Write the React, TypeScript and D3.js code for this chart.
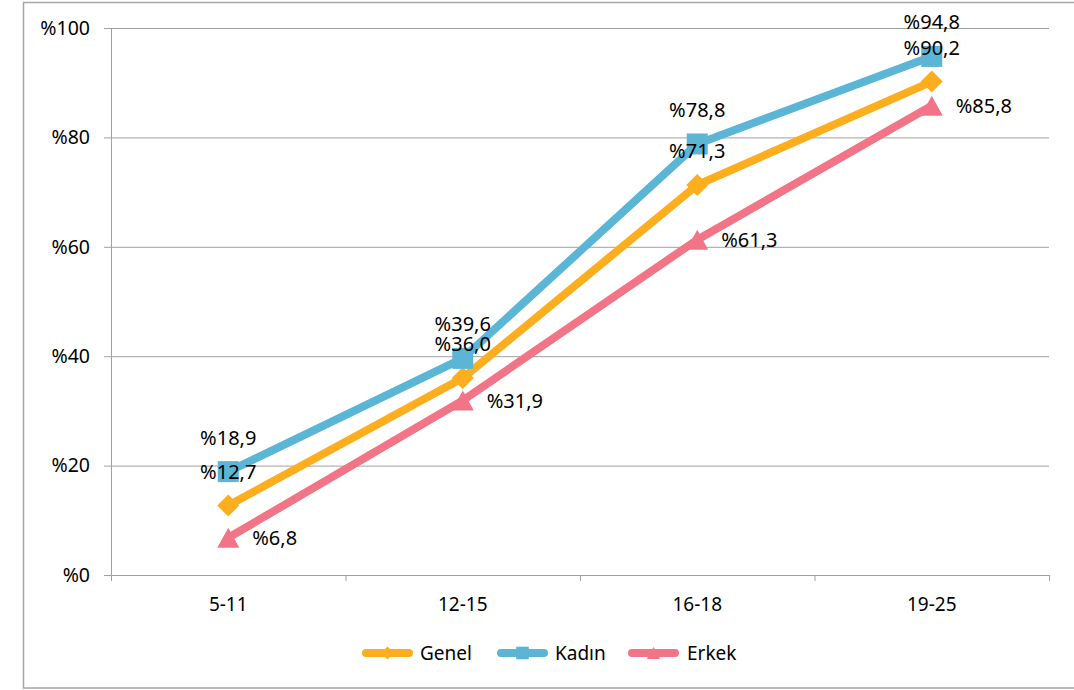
import React from "react";
import * as d3 from "d3";

const categories = ["5-11", "12-15", "16-18", "19-25"];
const genel = [12.7, 36.0, 71.3, 90.2];
const kadin = [18.9, 39.6, 78.8, 94.8];
const erkek = [6.8, 31.9, 61.3, 85.8];
const yTicks = [0, 20, 40, 60, 80, 100];

const fmt = (v: number) => "%" + v.toFixed(1).replace(".", ",");

export default function App() {
  const W = 1074, H = 690;
  const left = 111, right = 1049, top = 28, bottom = 575;
  const x = d3.scaleBand<string>().domain(categories).range([left, right]);
  const y = d3.scaleLinear().domain([0, 100]).range([bottom, top]);
  const cx = (c: string) => (x(c) as number) + x.bandwidth() / 2;
  const font = "'Noto Sans', sans-serif";

  const series = [
    { name: "Genel", values: genel, color: "#FDAE1E", marker: "diamond" },
    { name: "Kadın", values: kadin, color: "#5BB5D4", marker: "square" },
    { name: "Erkek", values: erkek, color: "#F27587", marker: "triangle" },
  ];

  const line = d3.line<number>().x((_, i) => cx(categories[i])).y((v) => y(v));

  const markerPath = (m: string, px: number, py: number, s = 1) => {
    if (m === "diamond") {
      const r = 11 * s;
      return `M${px},${py - r}L${px + r},${py}L${px},${py + r}L${px - r},${py}Z`;
    }
    if (m === "square") {
      const r = 10.5 * s;
      return `M${px - r},${py - r}H${px + r}V${py + r}H${px - r}Z`;
    }
    const hw = 11 * s, hh = 10 * s;
    return `M${px},${py - hh}L${px + hw},${py + hh}L${px - hw},${py + hh}Z`;
  };

  const boundaries = categories.map((c) => x(c) as number).concat([right]);

  const legendItems = [
    { s: series[0], x0: 362, tx: 420 },
    { s: series[1], x0: 497, tx: 555 },
    { s: series[2], x0: 628, tx: 687 },
  ];

  return (
    <svg width={W} height={H} style={{ position: "absolute", left: 0, top: 0 }} fontFamily={font}>
      <rect x={0} y={0} width={W} height={H} fill="#fff" />
      <rect x={23.5} y={2.5} width={W + 10} height={685.5} fill="none" stroke="#A6A6A6" strokeWidth={1.5} />
      {yTicks.map((t) => (
        <g key={t}>
          <line x1={104} x2={right} y1={y(t) + 0.5} y2={y(t) + 0.5} stroke="#A0A0A0" strokeWidth={1} />
          <text x={90} y={y(t)} dy="0.35em" textAnchor="end" fontSize={19.5} fill="#000">
            {"%" + t}
          </text>
        </g>
      ))}
      <line x1={left + 0.5} x2={left + 0.5} y1={top} y2={bottom + 6} stroke="#A0A0A0" />
      {boundaries.map((b, i) => (
        <line key={i} x1={b + 0.5} x2={b + 0.5} y1={bottom} y2={bottom + 6} stroke="#A0A0A0" />
      ))}
      {categories.map((c) => (
        <text key={c} x={cx(c)} y={604} dy="0.35em" textAnchor="middle" fontSize={19} fill="#000">
          {c}
        </text>
      ))}
      {series.map((s) => (
        <g key={s.name}>
          <path d={line(s.values) as string} fill="none" stroke={s.color} strokeWidth={8} strokeLinejoin="round" />
          {s.values.map((v, i) => (
            <path key={i} d={markerPath(s.marker, cx(categories[i]), y(v))} fill={s.color} />
          ))}
        </g>
      ))}
      {series.map((s) =>
        s.values.map((v, i) => {
          const px = cx(categories[i]);
          const py = y(v);
          if (s.name === "Erkek") {
            return (
              <text key={s.name + i} x={px + 24} y={py} dy="0.35em" fontSize={20} fill="#000">
                {fmt(v)}
              </text>
            );
          }
          return (
            <text key={s.name + i} x={px} y={py - 34} dy="0.35em" textAnchor="middle" fontSize={20} fill="#000">
              {fmt(v)}
            </text>
          );
        })
      )}
      {legendItems.map(({ s, x0, tx }) => (
        <g key={s.name}>
          <line x1={x0 + 4} x2={x0 + 47} y1={653} y2={653} stroke={s.color} strokeWidth={8} strokeLinecap="round" />
          <path d={markerPath(s.marker, x0 + 25.5, 653, 0.6)} fill={s.color} />
          <text x={tx} y={653} dy="0.35em" fontSize={19} fill="#000">
            {s.name}
          </text>
        </g>
      ))}
    </svg>
  );
}
